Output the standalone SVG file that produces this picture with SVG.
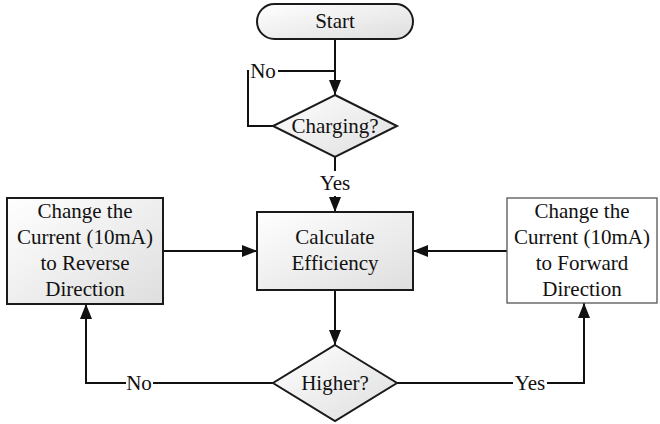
<svg xmlns="http://www.w3.org/2000/svg" width="660" height="424" viewBox="0 0 660 424">
<style>
.shape{stroke:#1a1a1a;stroke-width:2;fill:url(#g)}
.plain{stroke:#555;stroke-width:1.3;fill:#fff}
.t{font-size:21px;fill:#111;text-anchor:middle}
.c{fill:none;stroke:#111;stroke-width:2}
</style>
<defs>
<linearGradient id="g" x1="0" y1="0" x2="1" y2="1">
<stop offset="0" stop-color="#ffffff"/>
<stop offset="1" stop-color="#dedede"/>
</linearGradient>
<marker id="a" markerUnits="userSpaceOnUse" markerWidth="15" markerHeight="12" refX="15" refY="6" orient="auto">
<path d="M0,0 L15,6 L0,12 z" fill="#111"/>
</marker>
</defs>
<g font-family="'Liberation Serif', 'DejaVu Serif', serif">
<g id="connectors">
<path class="c" d="M335,39 V95" marker-end="url(#a)"/>
<path class="c" d="M273,126 H248 V70"/>
<path class="c" d="M278,71 H335"/>
<path class="c" d="M335,157 V171"/>
<path class="c" d="M335,196 V212" marker-end="url(#a)"/>
<path class="c" d="M335,290 V345" marker-end="url(#a)"/>
<path class="c" d="M273,383 H153"/>
<path class="c" d="M126,383 H86 V304" marker-end="url(#a)"/>
<path class="c" d="M397,383 H513"/>
<path class="c" d="M547,383 H584 V303" marker-end="url(#a)"/>
<path class="c" d="M163,251 H257" marker-end="url(#a)"/>
<path class="c" d="M507,251 H413" marker-end="url(#a)"/>
<text class="t" x="263" y="78">No</text>
<text class="t" x="335" y="190">Yes</text>
<text class="t" x="139" y="390">No</text>
<text class="t" x="530" y="390">Yes</text>
</g>
<g id="start">
<rect class="shape" x="257" y="4" width="156" height="35" rx="17.5"/>
<text class="t" x="335" y="28">Start</text>
</g>
<g id="charging">
<polygon class="shape" points="335,95 397,126 335,157 273,126"/>
<text class="t" x="335" y="133">Charging?</text>
</g>
<g id="calculate">
<rect class="shape" x="257" y="212" width="156" height="78"/>
<text class="t" x="335" y="244">Calculate</text>
<text class="t" x="335" y="270">Efficiency</text>
</g>
<g id="higher">
<polygon class="shape" points="335,345 397,383 335,421 273,383"/>
<text class="t" x="335" y="390">Higher?</text>
</g>
<g id="reverse">
<rect class="shape" x="7" y="198" width="156" height="106"/>
<text class="t" x="85" y="218">Change the</text>
<text class="t" x="85" y="244">Current (10mA)</text>
<text class="t" x="85" y="270">to Reverse</text>
<text class="t" x="85" y="296">Direction</text>
</g>
<g id="forward">
<rect class="plain" x="507" y="198" width="150" height="105"/>
<text class="t" x="582" y="218">Change the</text>
<text class="t" x="582" y="244">Current (10mA)</text>
<text class="t" x="582" y="270">to Forward</text>
<text class="t" x="582" y="296">Direction</text>
</g>
</g>
</svg>
